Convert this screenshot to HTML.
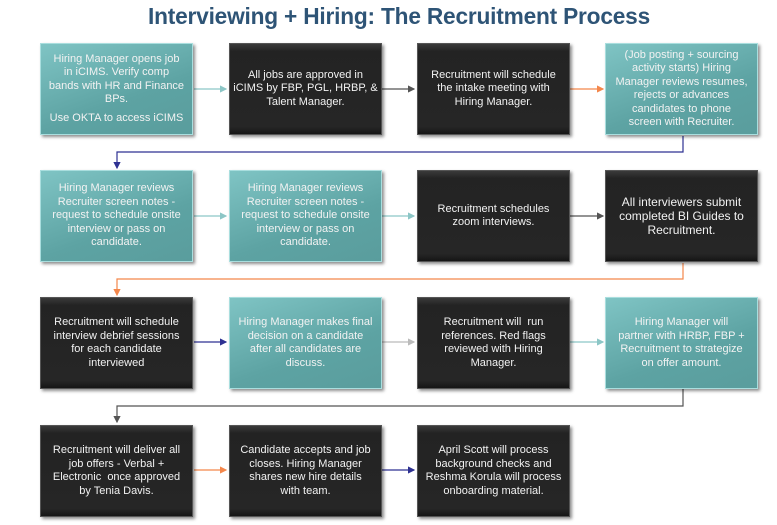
<!DOCTYPE html>
<html><head><meta charset="utf-8"><style>
body{margin:0;background:#fff;width:777px;height:525px;overflow:hidden;position:relative;font-family:"Liberation Sans",sans-serif}
.t{position:absolute;left:0;top:3px;width:798px;text-align:center;font-size:22.7px;font-weight:bold;color:#2e5476;letter-spacing:-0.2px}
.b{position:absolute;width:153px;height:92px;box-sizing:border-box;display:flex;flex-direction:column;align-items:center;justify-content:center;text-align:center;color:#f2f2f2;font-size:11px;line-height:13.5px;padding:3px 2px;white-space:nowrap;box-shadow:2px 2px 3px rgba(0,0,0,.45)}
.d{background:linear-gradient(#3a3a3a,#232323 8%,#262626 92%,#151515);border:1px solid #555}
.g{background:linear-gradient(160deg,#7fc4c4,#5da3a3 60%,#5a9d9d);border:1px solid #a9dede}
svg{position:absolute;left:0;top:0}
</style></head><body>
<div class="t">Interviewing + Hiring: The Recruitment Process</div>
<svg width="777" height="525">
<defs>
<marker id="a" markerWidth="6" markerHeight="6" refX="5" refY="3" orient="auto"><path d="M0,0L6,3L0,6z" fill="context-stroke"/></marker>
</defs>
<g fill="none" stroke-width="1.2" marker-end="url(#a)">
<path d="M194,89H226" stroke="#8cc6c6"/>
<path d="M382,89H414" stroke="#555"/>
<path d="M570,89H603" stroke="#f4874b"/>
<path d="M683,136V152H117V168" stroke="#2e3192"/>
<path d="M194,216H226" stroke="#8cc6c6"/>
<path d="M382,216H414" stroke="#8cc6c6"/>
<path d="M570,216H603" stroke="#555"/>
<path d="M683,263V279H117V295" stroke="#f4874b"/>
<path d="M194,342H226" stroke="#2e3192"/>
<path d="M382,342H414" stroke="#bbb"/>
<path d="M570,342H603" stroke="#8cc6c6"/>
<path d="M683,389V406H117V422" stroke="#555"/>
<path d="M194,470H226" stroke="#f4874b"/>
<path d="M382,470H414" stroke="#2e3192"/>
</g></svg>
<div class="b g" style="left:40px;top:43px"><div>Hiring Manager opens job<br>in iCIMS. Verify comp<br>bands with HR and Finance<br>BPs.</div><div style="margin-top:5px">Use OKTA to access iCIMS</div></div>
<div class="b d" style="left:229px;top:43px">All jobs are approved in<br>iCIMS by FBP, PGL, HRBP, &amp;<br>Talent Manager.</div>
<div class="b d" style="left:417px;top:43px">Recruitment will schedule<br>the intake meeting with<br>Hiring Manager.</div>
<div class="b g" style="left:605px;top:43px">(Job posting + sourcing<br>activity starts) Hiring<br>Manager reviews resumes,<br>rejects or advances<br>candidates to phone<br>screen with Recruiter.</div>
<div class="b g" style="left:40px;top:170px">Hiring Manager reviews<br>Recruiter screen notes -<br>request to schedule onsite<br>interview or pass on<br>candidate.</div>
<div class="b g" style="left:229px;top:170px">Hiring Manager reviews<br>Recruiter screen notes -<br>request to schedule onsite<br>interview or pass on<br>candidate.</div>
<div class="b d" style="left:417px;top:170px">Recruitment schedules<br>zoom interviews.</div>
<div class="b d" style="left:605px;top:170px;font-size:12px;line-height:14px">All interviewers submit<br>completed BI Guides to<br>Recruitment.</div>
<div class="b d" style="left:40px;top:297px">Recruitment will schedule<br>interview debrief sessions<br>for each candidate<br>interviewed</div>
<div class="b g" style="left:229px;top:297px">Hiring Manager makes final<br>decision on a candidate<br>after all candidates are<br>discuss.</div>
<div class="b d" style="left:417px;top:297px">Recruitment will &nbsp;run<br>references. Red flags<br>reviewed with Hiring<br>Manager.</div>
<div class="b g" style="left:605px;top:297px">Hiring Manager will<br>partner with HRBP, FBP +<br>Recruitment to strategize<br>on offer amount.</div>
<div class="b d" style="left:40px;top:425px">Recruitment will deliver all<br>job offers - Verbal +<br>Electronic &nbsp;once approved<br>by Tenia Davis.</div>
<div class="b d" style="left:229px;top:425px">Candidate accepts and job<br>closes. Hiring Manager<br>shares new hire details<br>with team.</div>
<div class="b d" style="left:417px;top:425px">April Scott will process<br>background checks and<br>Reshma Korula will process<br>onboarding material.</div>
</body></html>
